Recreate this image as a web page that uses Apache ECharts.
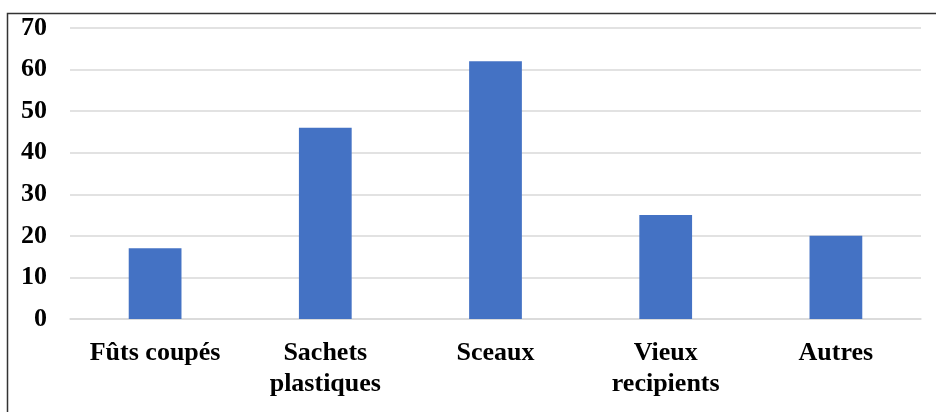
<!DOCTYPE html>
<meta charset="utf-8" />
<style>
html, body { margin: 0; padding: 0; background: #fff; }
#chart { width: 936px; height: 412px; }
</style>
<script src="https://cdn.jsdelivr.net/npm/echarts@6/dist/echarts.min.js"></script>
<div id="chart"></div>
<script>
const categories = ['Fûts coupés', 'Sachets\nplastiques', 'Sceaux', 'Vieux\nrecipients', 'Autres'];
const values = [17, 46, 62, 25, 20];

const font = '"Liberation Serif", "Times New Roman", serif';

const chart = echarts.init(document.getElementById('chart'));
chart.setOption({
  animation: false,
  // frame of the original figure: left and top edges only
  graphic: [
    {
      type: 'polyline',
      shape: { points: [[7.5, 412], [7.5, 13.5], [936, 13.5]] },
      style: { stroke: '#333', lineWidth: 1.5, fill: null }
    }
  ],
  grid: { left: 70, right: 15, top: 28, bottom: 93 },
  xAxis: {
    type: 'category',
    data: categories,
    axisLine: { lineStyle: { color: '#d9d9d9', width: 1.5 } },
    axisTick: { show: false },
    axisLabel: {
      color: '#000',
      fontFamily: font,
      fontWeight: 'bold',
      fontSize: 26,
      lineHeight: 31,
      margin: 19,
      interval: 0
    }
  },
  yAxis: {
    type: 'value',
    min: 0,
    max: 70,
    interval: 10,
    axisLine: { show: false },
    axisTick: { show: false },
    splitLine: { lineStyle: { color: '#d9d9d9', width: 1.5 } },
    axisLabel: {
      color: '#000',
      fontFamily: font,
      fontWeight: 'bold',
      fontSize: 26,
      margin: 23
    }
  },
  series: [
    {
      type: 'bar',
      data: values,
      barWidth: '31%',
      itemStyle: { color: '#4472c4' }
    }
  ]
});
</script>
